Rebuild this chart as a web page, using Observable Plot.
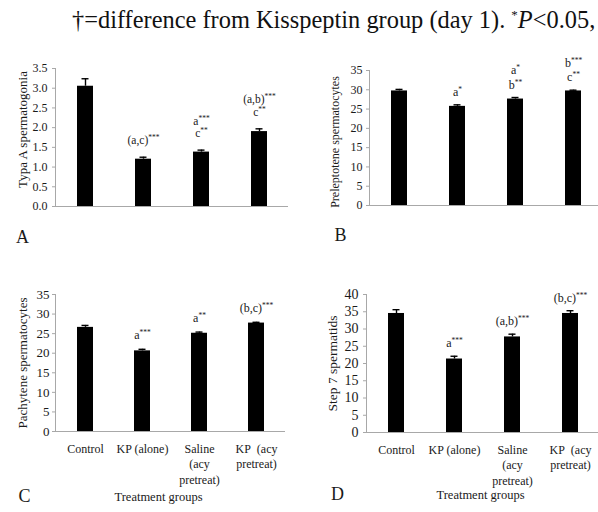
<!DOCTYPE html>
<html><head><meta charset="utf-8">
<script src="https://cdn.jsdelivr.net/npm/d3@7"></script>
<script src="https://cdn.jsdelivr.net/npm/@observablehq/plot@0.6"></script>
<style>
body{margin:0;background:#fff;}
#fig{position:relative;width:598px;height:512px;overflow:hidden;background:#fff;font-family:'Liberation Serif','Times New Roman',serif;}
#top{position:absolute;left:72px;top:0px;font-family:'Liberation Serif','Times New Roman',serif;font-size:24.4px;white-space:nowrap;color:#111;line-height:30px;}
#top sup{font-size:13px;}
.panel{position:absolute;}
</style></head><body>
<div id="fig"><div id="top">†=difference from Kisspeptin group (day 1). <sup>*</sup><i>P</i>&lt;0.05,</div></div>
<script>
// ---- data ----
const groups = ["Control", "KP (alone)", "Saline\n(acy\npretreat)", "KP\u00a0 (acy\npretreat)"];

const typeAValues = [3.05, 1.2, 1.38, 1.9];
const typeAErrors = [0.19, 0.05, 0.05, 0.07];
const typeANotes = ["", "(a,c)***", "a***\nc**", "(a,b)***\nc**"];
const typeATicks = [0, 0.5, 1, 1.5, 2, 2.5, 3, 3.5];

const prelepValues = [29.7, 25.7, 27.6, 29.7];
const prelepErrors = [0.4, 0.4, 0.4, 0.2];
const prelepNotes = ["", "a*", "a*\nb**", "b***\nc**"];
const prelepTicks = [0, 5, 10, 15, 20, 25, 30, 35];

const pachyValues = [26.6, 20.6, 25.1, 27.7];
const pachyErrors = [0.5, 0.4, 0.3, 0.2];
const pachyNotes = ["", "a***", "a**", "(b,c)***"];
const pachyTicks = [0, 5, 10, 15, 20, 25, 30, 35];

const step7Values = [34.5, 21.3, 27.7, 34.5];
const step7Errors = [1.1, 0.8, 0.8, 0.8];
const step7Notes = ["", "a***", "(a,b)***", "(b,c)***"];
const step7Ticks = [0, 5, 10, 15, 20, 25, 30, 35, 40];

const yTitles = ["Typa A spermatogonia", "Preleptotene spermatocytes", "Pachytene spermatocytes", "Step 7 spermatids"];
const letters = ["A", "B", "C", "D"];
const xTitle = "Treatment groups";

// ---- drawing ----
const AXIS = "#a8a8a8", INK = "#1a1a1a";

function supStars(svg) {
  svg.querySelectorAll("text, tspan").forEach(el => {
    if (el.children.length) return;
    const m = el.textContent.match(/^(.*?)(\*+)$/);
    if (!m) return;
    el.textContent = m[1];
    const ts = document.createElementNS("http://www.w3.org/2000/svg", "tspan");
    ts.setAttribute("baseline-shift", "super");
    ts.setAttribute("font-size", "7.5");
    ts.textContent = m[2];
    el.appendChild(ts);
  });
}

function panel(p) {
  const rows = groups.map((g, i) => ({group: g, value: p.values[i], err: p.errors[i], note: p.notes[i]}));
  const marks = [
    Plot.ruleY([0], {stroke: AXIS}),
    Plot.frame({anchor: "left", stroke: AXIS}),
    Plot.axisY({ticks: p.ticks, tickSize: 3, tickPadding: p.tickPad, fontSize: p.tickFont, stroke: AXIS, fill: INK, label: null}),
    Plot.barY(rows, {x: "group", y: "value", fill: "#000"}),
    Plot.ruleX(rows, {x: "group", y1: "value", y2: d => d.value + d.err, stroke: "#000", strokeWidth: 1.4}),
    Plot.tickY(rows, {x: "group", y: d => d.value + d.err, stroke: "#000", strokeWidth: 1.4, insetLeft: 4.5, insetRight: 4.5}),
    Plot.text(rows, {x: "group", y: d => d.value + d.err, text: "note", lineAnchor: "bottom", dy: p.noteDy, fontSize: p.noteFont, lineHeight: p.noteLH, fill: INK}),
    Plot.text([p.yTitle], {frameAnchor: "left", textAnchor: "middle", lineAnchor: "middle", rotate: -90, dx: p.titleDx, dy: p.titleDy, fontSize: p.titleFont, fill: INK}),
    Plot.text([p.letter], {frameAnchor: "bottom-left", textAnchor: "middle", lineAnchor: "middle", dx: p.letterDx, dy: p.letterDy, fontSize: 18, fill: INK})
  ];
  if (p.showX) {
    marks.push(Plot.axisX({tickSize: 0, tickPadding: 10, fontSize: 12, lineHeight: 1.3, fill: INK, label: null}));
    marks.push(Plot.text([xTitle], {frameAnchor: "bottom", textAnchor: "middle", lineAnchor: "middle", dx: p.xTitleDx, dy: p.xTitleDy, fontSize: 12.5, fill: INK}));
  }
  const chart = Plot.plot({
    width: p.width, height: p.height,
    marginLeft: p.mL, marginRight: p.mR, marginTop: p.mT, marginBottom: p.mB,
    style: {fontFamily: "'Liberation Serif', serif", background: "transparent", overflow: "visible", maxWidth: "none"},
    x: {domain: groups, paddingInner: 0.726, paddingOuter: 0.363, axis: p.showX ? undefined : null},
    y: {domain: p.domain},
    marks
  });
  supStars(chart);
  const wrap = document.createElement("div");
  wrap.className = "panel";
  wrap.style.left = p.left + "px";
  wrap.style.top = p.top + "px";
  wrap.appendChild(chart);
  document.getElementById("fig").appendChild(wrap);
}

panel({values: typeAValues, errors: typeAErrors, notes: typeANotes, ticks: typeATicks, domain: [0, 3.5],
  yTitle: yTitles[0], letter: letters[0], showX: false,
  left: 0, top: 40, width: 300, height: 215, mL: 55, mR: 12, mT: 28, mB: 49,
  tickFont: 12, tickPad: 5, titleFont: 13, titleDx: -33, titleDy: -8,
  letterDx: -33, letterDy: 31, noteDy: -13, noteFont: 11.5, noteLH: 1.08});

panel({values: prelepValues, errors: prelepErrors, notes: prelepNotes, ticks: prelepTicks, domain: [0, 35],
  yTitle: yTitles[1], letter: letters[1], showX: false,
  left: 300, top: 40, width: 302, height: 215, mL: 69, mR: 0, mT: 30, mB: 50,
  tickFont: 12, tickPad: 4, titleFont: 12, titleDx: -34, titleDy: 4,
  letterDx: -29, letterDy: 30, noteDy: -9, noteFont: 12, noteLH: 1.17});

panel({values: pachyValues, errors: pachyErrors, notes: pachyNotes, ticks: pachyTicks, domain: [0, 35],
  yTitle: yTitles[2], letter: letters[2], showX: true,
  left: 0, top: 280, width: 300, height: 232, mL: 55, mR: 15, mT: 14, mB: 81,
  tickFont: 13, tickPad: 3, titleFont: 13, titleDx: -33, titleDy: 0,
  letterDx: -31, letterDy: 65, noteDy: -10, noteFont: 12, noteLH: 1.17, xTitleDx: -12, xTitleDy: 65});

panel({values: step7Values, errors: step7Errors, notes: step7Notes, ticks: step7Ticks, domain: [0, 40],
  yTitle: yTitles[3], letter: letters[3], showX: true,
  left: 300, top: 280, width: 302, height: 232, mL: 66, mR: 2, mT: 14, mB: 80,
  tickFont: 14, tickPad: 5, titleFont: 13.5, titleDx: -34, titleDy: 0,
  letterDx: -29, letterDy: 62, noteDy: -9, noteFont: 12, noteLH: 1.17, xTitleDx: -3, xTitleDy: 62});
</script>
</body></html>
